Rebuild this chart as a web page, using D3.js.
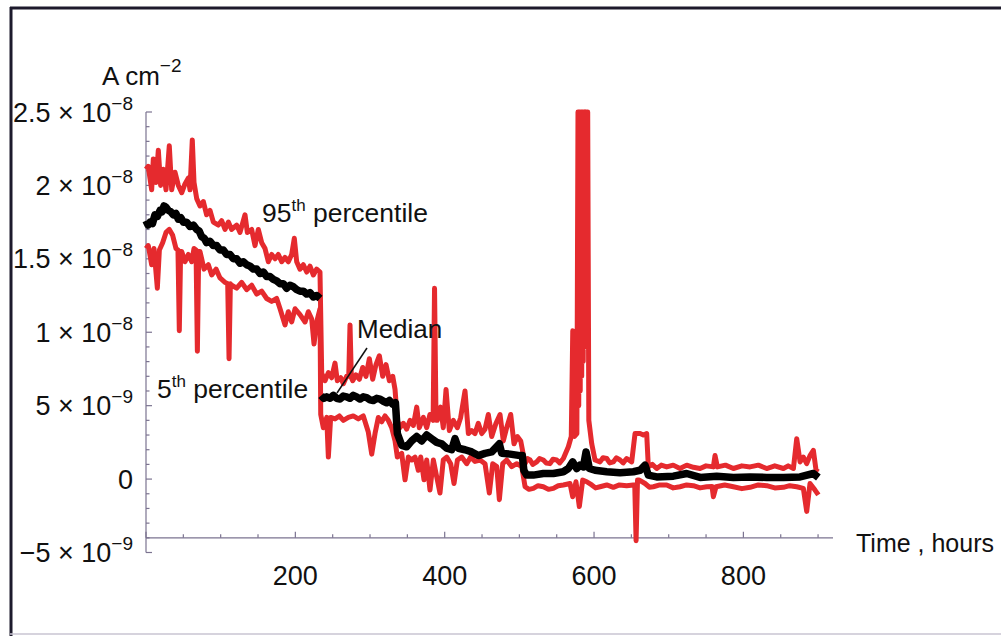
<!DOCTYPE html>
<html>
<head>
<meta charset="utf-8">
<script src="https://cdn.jsdelivr.net/npm/d3@7"></script>
<style>
  html, body { margin: 0; padding: 0; background: #fff; }
  svg { display: block; font-family: "Liberation Sans", Arial, sans-serif; }
</style>
</head>
<body>
<div id="chart"></div>
<script>
// current density in units of 1e-9 A cm^-2, time in hours
const p95 = [
  [0,21.1],[3,21.3],[7.6,19.7],[9.8,21.8],[13.4,20.2],[16.5,22.4],[19.6,20],[23.2,21.1],[26.8,19.7],
  [31.2,22.7],[34.4,19.7],[38.8,20.9],[43.3,20],[47.8,19.5],[52.2,20.1],[56.7,20.5],[58.9,19.7],
  [62,23.1],[64.3,20.2],[67.9,19.1],[72.3,18.6],[76.8,18.9],[81.2,18],[85.7,18.3],[90.2,17.5],
  [96.9,17.3],[101.3,17.6],[105.8,17],[110.3,17.5],[114.7,17],[121.4,17.3],[125.9,16.8],[132.6,18],
  [135.7,16.8],[141.5,17],[146,15.9],[150.4,17],[154.9,16.1],[159.4,15.7],[163.8,14.8],[168.3,15.3],
  [172.8,15],[177.2,15.3],[181.7,14.8],[186.2,15.1],[190.6,14.8],[195.1,15.3],[198.6,16.4],[201.8,14.8],
  [206.2,14.3],[210.7,14.6],[215.2,14.1],[219.6,14.5],[224.1,13.9],[228.6,14.3],[233,14.1],
  [235.3,7.2],[239.7,6.7],[244.2,7.25],[248.6,6.9],[253.1,7.9],[256.2,6.7],[260.7,6.9],[264.3,6.5],
  [268.7,7.0],[271.5,7.0],[273.2,10.5],[275,6.9],[276.8,6.7],[281.2,7.1],[285.7,6.8],[290.2,7.6],[294.6,7.0],
  [299.1,8.2],[303.6,6.8],[308,7.8],[312.5,8.4],[317,7.0],[321.4,7.8],[325.9,6.7],[330.4,7.0],[333.5,6.1],
  [336.6,4.0],[340,3.5],[344.6,3.8],[349.1,3.4],[353.6,4.0],[358,3.65],[362.5,4.9],[366,3.5],[371.4,4.2],
  [375.9,3.5],[380.3,4.4],[384.5,4.0],[386.4,13.0],[388.4,4.0],[390,4.0],[394.5,4.9],[398.1,3.5],[401.8,6.1],
  [406.2,3.3],[411.6,4.0],[417,3.5],[421.4,4.2],[427.2,6.0],[431.7,3.1],[436.2,3.3],[440.6,3.1],[445,3.8],
  [449.6,3.1],[454,3.4],[458.4,4.4],[463,2.9],[468.7,3.8],[474.1,4.4],[478.5,2.6],[483,3.5],[488.4,4.4],
  [492.8,2.4],[497.3,2.9],[501.8,2.6],
  [507.6,1.05],[511,1.4],[514.3,1.3],[518,1.0],[523.2,1.17],[527,1.4],[532.1,1.3],[536,1.1],[541,1.05],
  [545,1.35],[550,1.3],[554,1.1],[558.9,1.4],[565.6,2.2],
  [569.5,2.9],[571.5,10.1],[573.5,2.9],[577,3.1],[578.5,25],[579.5,5],[580.5,25],[581.5,6],[582.5,25],
  [583.5,7],[584.5,25],[585.5,8],[586.5,25],[587.5,9],[588.5,25],[589.5,10],[590.5,25],[591.5,25],
  [593,4],[596.9,2.4],[601.3,1.3],[608,1.17],[612,1.45],[617,1.4],[621,1.1],[625.8,1.17],[630,1.45],
  [634.8,1.3],[639,1.1],[643.7,1.4],[650.4,1.17],[654.9,3.1],[661.6,3.1],[666,3.0],[670.5,3.1],
  [672.7,0.83],[678,1.0],[683.9,0.72],[690,0.95],[697.3,0.83],[706,0.95],[715.1,0.72],[724.1,0.95],
  [733,0.8],[742,0.72],[750,0.9],[759.8,0.83],[762,1.6],[765.2,0.83],[776,0.95],[786.6,0.72],[798,0.9],
  [808.9,0.83],[820,0.95],[831.2,0.72],[842,0.9],[853.6,0.72],[860,0.9],[867,0.72],[871.4,2.75],
  [875.9,1.17],[880.3,1.5],[884.8,1.05],[889.2,1.6],[893.7,1.95],[897.3,0.6],[900.4,0.5]
];

const median = [
  [0,17.6],[2.7,17.3],[5.4,17.5],[8.7,17.4],[12,18],[15.4,17.9],[18.8,18.3],[21.5,18.2],[24.1,18.6],
  [27,18.5],[29.9,18.3],[33.3,18.2],[36.6,18],[40,18.1],[43.3,17.7],[46.6,17.8],[50,17.5],[54.5,17.5],
  [58.9,17.2],[63.4,17.3],[67.9,17],[71.2,16.9],[74.6,16.5],[78,16.4],[81.2,16.1],[85.7,16.2],[90.2,15.9],
  [94.6,15.9],[99.1,15.6],[103.5,15.6],[108,15.3],[112.5,15.3],[117,15],[121.4,15.0],[125.9,14.7],
  [130.4,14.8],[134.8,14.6],[139.3,14.5],[143.8,14.3],[148.2,14.3],[152.7,14],[157.2,14.1],[161.6,13.8],
  [166,13.8],[170.5,13.6],[175,13.5],[179.5,13.3],[184,13.3],[188.4,13],[192.8,13.2],[197.3,13.1],
  [201.8,12.9],[206.2,12.8],[210.7,12.8],[215.2,12.6],[219.6,12.7],[224.1,12.4],[228.6,12.5],[233,12.3],
  null,
  [234.5,5.7],[238,5.5],[242,5.6],[246.5,5.5],[250.9,5.7],[255.3,5.5],[259.8,5.45],[264.2,5.65],
  [268.7,5.6],[273,5.5],[277.6,5.7],[282,5.6],[286.6,5.45],[291,5.6],[295.5,5.55],[300,5.4],
  [304.4,5.35],[309,5.5],[313.4,5.45],[318,5.3],[322.3,5.2],[326,5.35],[330.4,5.1],[334,5.2],
  [336.6,3.1],[342.4,2.3],[349.1,2.2],[355.8,2.6],[362.5,2.9],[369.2,2.6],[375.9,3.0],[382.6,2.75],
  [389.3,2.5],[396,2.4],[402.7,2.1],[409.4,2.0],[413.8,2.75],[418.3,2.1],[427.2,2.0],[436.2,1.85],
  [445,1.6],[454,1.75],[463,1.85],[473.2,2.4],[476.4,1.75],[487.5,1.7],[500.9,1.6],[504,1.6],
  [506,0.6],[509.8,0.27],[518.7,0.27],[532.1,0.38],[545.5,0.38],[558.9,0.5],[565.6,0.72],[571.4,1.17],
  [576.8,0.72],[581.2,0.95],[585.7,0.83],[589.3,1.85],[593.7,0.72],[601.3,0.6],[617,0.5],[634.8,0.43],
  [652.6,0.5],[661.6,0.6],[668.3,0.95],[672.7,0.27],[683.9,0.15],[706.2,0.2],[724.1,0.38],[742,0.11],
  [764.3,0.2],[786.6,0.11],[808.9,0.15],[831.2,0.11],[853.6,0.11],[875.9,0.15],[893.7,0.38],[900.4,0.11]
];

const p05 = [
  [0,15.7],[3.1,15.9],[7.6,14.6],[10.7,15.7],[15.2,13.0],[17.9,15.6],[22.3,16.1],[26.8,16.8],[31.2,17],
  [35.7,16.6],[40.2,15.7],[42.8,15.6],[44.6,10.1],[46.4,15.5],[47.8,15.5],[52.2,14.8],[56.7,15.3],
  [61.2,14.8],[64.3,15.7],[67,15.6],[68.8,8.7],[70.6,15.5],[72.3,15.5],[77.7,14.3],[83.5,14.6],[88,13.9],
  [93.8,14.3],[99.1,13.7],[105.8,13.4],[109.4,13.3],[111.2,8.2],[113,13.3],[114.7,13.2],[121.4,13],
  [128.1,13.4],[134.8,12.9],[141.5,13.2],[148.2,12.6],[154.9,12.8],[161.6,12.3],[168.3,12.1],[175,12.3],
  [179.5,11.6],[186.2,10.5],[190.6,11.4],[195.1,10.7],[199.6,11.6],[206.2,11.2],[213,10.7],[217.4,11.4],
  [221.9,10.9],[225,9.2],[228.6,10.7],[233,11.6],
  [234,4.4],[237.5,3.5],[242,4.2],[244.2,1.5],[247.3,4.2],[253.1,4.1],[258.9,4.3],[264.3,4.0],[271,4.2],
  [277.6,4.3],[284.3,4.1],[291,4.3],[297.7,3.2],[302.3,1.7],[306.7,3.1],[311.1,4.2],[315.6,3.9],
  [320.1,4.3],[324.5,4.0],[329,3.5],[333.5,2.6],
  [336.6,1.5],[342.4,1.75],[346.9,-0.05],[351.3,1.5],[355.8,1.3],[360.3,1.5],[364.7,0.6],[367.9,1.5],
  [372.3,-0.05],[375.9,1.3],[380.3,-0.75],[384.8,1.3],[389.3,0.15],[393.7,-0.95],[398.1,1.3],[402.7,1.5],
  [408,1.05],[412.5,-0.3],[417,1.3],[422.8,1.5],[429.5,1.05],[434.8,1.5],[440.6,1.2],[447.3,1.3],
  [454,1.05],[459.8,-0.95],[464.3,1.05],[469.7,0.85],[473.2,-1.4],[477.7,1.05],[483,1.3],[489.8,0.85],
  [496.5,1.05],[503.2,0.85],
  [507.6,-0.52],[513,-0.7],[518.7,-0.63],[525,-0.45],[532.1,-0.52],[539,-0.7],[545.5,-0.63],[552,-0.45],
  [558.9,-0.4],[567.8,-0.3],[571.4,-1.2],
  [575.8,-0.18],[580.3,-1.87],[584.8,-0.07],[590.2,-0.18],[596.9,-0.4],[602,-0.6],[608,-0.52],[617,-0.4],
  [625.8,-0.56],[634,-0.4],[643.7,-0.45],[652.6,-0.4],[654.5,-0.4],[656.3,-4.2],[658.2,-0.07],[660.6,-0.07],
  [668.3,-0.3],[674,-0.55],[679.4,-0.52],[688,-0.4],[697.3,-0.4],[706,-0.6],[715.1,-0.52],[724,-0.4],
  [733,-0.45],[742,-0.6],[750.9,-0.52],[758,-0.5],[759.8,-1.2],[763.4,-0.52],[775,-0.4],[786.6,-0.52],
  [798,-0.65],[808.9,-0.56],[820,-0.4],[831.2,-0.45],[842,-0.6],[853.6,-0.56],[862,-0.45],[871.4,-0.52],
  [880.3,-0.63],[884.8,-2.2],[889.2,-0.3],[895.9,-0.75],[900.4,-1.08]
];

// y ticks: [value in 1e-9, mantissa, exponent]
const yTickLabels = [
  [-5, "\u22125", "\u22129"], [0, "0", null], [5, "5", "\u22129"], [10, "1", "\u22128"],
  [15, "1.5", "\u22128"], [20, "2", "\u22128"], [25, "2.5", "\u22128"]
];
const xTickLabels = [200, 400, 600, 800];

const width = 1001, height = 636;
const axisColor = "#7b7390";
const red = "#e52a2e";

const x = d3.scaleLinear().domain([0, 920]).range([146, 833]);
const y = d3.scaleLinear().domain([-5, 25]).range([552.5, 112]);

const svg = d3.select("#chart").append("svg")
  .attr("width", width).attr("height", height);

// frame
svg.append("line").attr("x1", 11).attr("x2", 11).attr("y1", 7).attr("y2", 636)
  .attr("stroke", "#1d1a2c").attr("stroke-width", 3);
svg.append("line").attr("x1", 10).attr("x2", width).attr("y1", 8).attr("y2", 8)
  .attr("stroke", "#1d1a2c").attr("stroke-width", 3);
svg.append("line").attr("x1", 10).attr("x2", width).attr("y1", 634).attr("y2", 634)
  .attr("stroke", "#c9c5d2").attr("stroke-width", 1.5);

// axes: y axis at t=0, x axis crossing at -4e-9
const axes = svg.append("g").attr("stroke", axisColor).attr("stroke-width", 1.2);
axes.append("line").attr("x1", x(0)).attr("x2", x(0)).attr("y1", y(-5)).attr("y2", y(25));
axes.append("line").attr("x1", x(0)).attr("x2", x(920)).attr("y1", y(-4)).attr("y2", y(-4));

axes.selectAll(".ytick").data(d3.range(-5, 25.5, 1)).join("line")
  .attr("x1", x(0)).attr("x2", (d) => x(0) + (d % 5 === 0 ? 6 : 3.5))
  .attr("y1", (d) => y(d)).attr("y2", (d) => y(d));

axes.selectAll(".xtick").data(d3.range(0, 901, 50)).join("line")
  .attr("x1", (d) => x(d)).attr("x2", (d) => x(d))
  .attr("y1", y(-4)).attr("y2", (d) => y(-4) - (d % 200 === 0 ? 6 : 3.5));

// tick labels
const yLab = svg.append("g").attr("font-size", 27).attr("fill", "#111");
yLab.selectAll("text").data(yTickLabels).join("text")
  .attr("x", 133).attr("y", (d) => y(d[0]) + 9.5).attr("text-anchor", "end")
  .each(function (d) {
    const t = d3.select(this);
    if (!d[2]) { t.text(d[1]); return; }
    t.append("tspan").text(d[1] + " \u00d7 10");
    t.append("tspan").attr("dy", -12).attr("font-size", 19).text(d[2]);
  });

svg.append("g").attr("font-size", 27).attr("fill", "#111")
  .selectAll("text").data(xTickLabels).join("text")
  .attr("x", (d) => x(d)).attr("y", 585).attr("text-anchor", "middle")
  .text((d) => d);

// axis titles
svg.append("text").attr("x", 856).attr("y", 552).attr("font-size", 25).attr("fill", "#111")
  .text("Time , hours");
const yt = svg.append("text").attr("x", 102).attr("y", 85).attr("font-size", 26).attr("fill", "#111");
yt.append("tspan").text("A cm");
yt.append("tspan").attr("dy", -13).attr("font-size", 19).text("\u22122");

// series
const line = d3.line().defined((d) => d).x((d) => x(d[0])).y((d) => y(d[1]));
const plot = svg.append("g").attr("fill", "none")
  .attr("stroke-linejoin", "round").attr("stroke-linecap", "butt");
plot.append("path").datum(p95).attr("d", line).attr("stroke", red).attr("stroke-width", 5);
plot.append("path").datum(p05).attr("d", line).attr("stroke", red).attr("stroke-width", 5);
plot.append("path").datum(median).attr("d", line).attr("stroke", "#000").attr("stroke-width", 7.5);

// annotations
const ann = svg.append("g").attr("font-size", 26.5).attr("fill", "#111");
const a95 = ann.append("text").attr("x", 262).attr("y", 222);
a95.append("tspan").text("95");
a95.append("tspan").attr("dy", -11).attr("font-size", 17).text("th");
a95.append("tspan").attr("dy", 11).text(" percentile");

const a5 = ann.append("text").attr("x", 157).attr("y", 398);
a5.append("tspan").text("5");
a5.append("tspan").attr("dy", -11).attr("font-size", 17).text("th");
a5.append("tspan").attr("dy", 11).text(" percentile");

ann.append("text").attr("x", 357).attr("y", 338).attr("font-size", 26).text("Median");
svg.append("line").attr("x1", 367).attr("y1", 348).attr("x2", 337).attr("y2", 393)
  .attr("stroke", "#111").attr("stroke-width", 1.5);
</script>
</body>
</html>
